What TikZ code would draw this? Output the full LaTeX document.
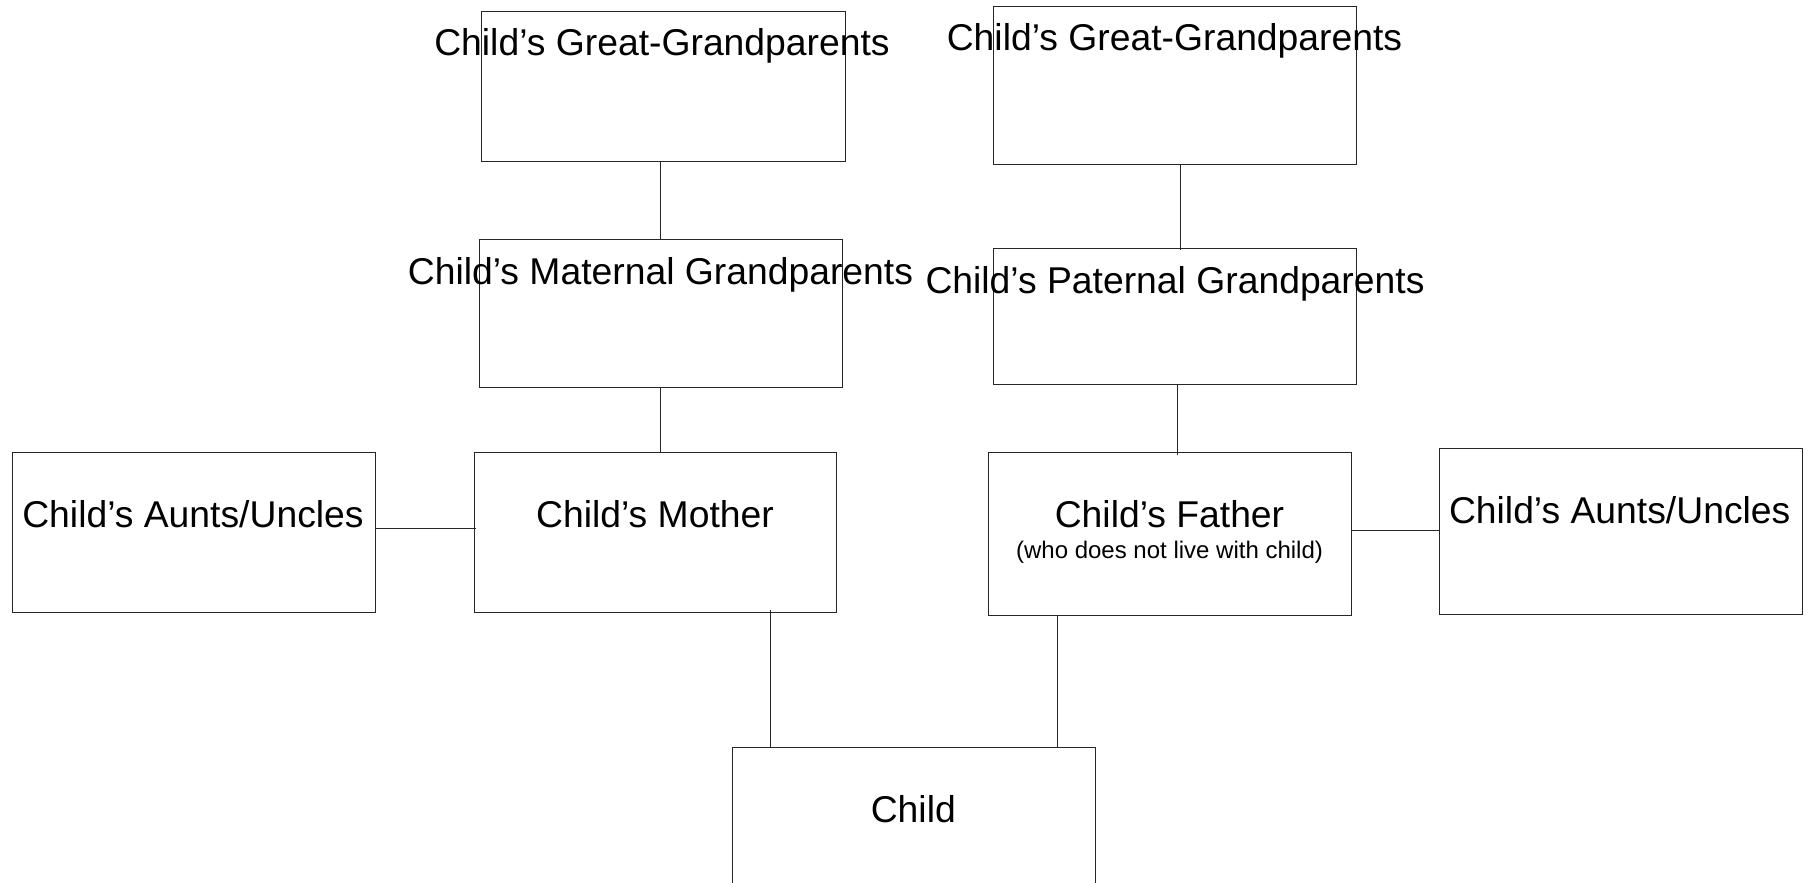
\documentclass[tikz,border=0pt]{standalone}
\usepackage{fontspec}
\setmainfont{Liberation Sans}
\begin{document}
\begin{tikzpicture}[x=1pt,y=-1pt,
  famBox/.style={draw=black!85,line width=0.85pt,fill=none,inner sep=0pt,outer sep=0pt,rectangle},
  bigTxt/.style={font=\fontsize{37.3}{44}\selectfont,inner sep=0pt,anchor=base,text=black},
  smallTxt/.style={font=\fontsize{24}{28}\selectfont,inner sep=0pt,anchor=base,text=black},
  link/.style={draw=black!85,line width=0.85pt}]
\useasboundingbox (0,0) rectangle (1809,883);
\clip (0,0) rectangle (1809,883);
\fill[white] (0,0) rectangle (1809,883);
% boxes
\node[famBox,minimum width=364pt,minimum height=150pt] (ggpL) at (663,86.5) {};
\node[famBox,minimum width=363pt,minimum height=158pt] (ggpR) at (1174.5,85) {};
\node[famBox,minimum width=363pt,minimum height=148pt] (matGP) at (660.5,313) {};
\node[famBox,minimum width=363pt,minimum height=136pt] (patGP) at (1174.5,316) {};
\node[famBox,minimum width=363pt,minimum height=160pt] (auntL) at (193.5,532) {};
\node[famBox,minimum width=362pt,minimum height=160pt] (mother) at (655,532) {};
\node[famBox,minimum width=363pt,minimum height=163pt] (father) at (1169.5,533.5) {};
\node[famBox,minimum width=363pt,minimum height=166pt] (auntR) at (1620.5,531) {};
\node[famBox,minimum width=363pt,minimum height=153pt] (child) at (913.5,823.5) {};
% texts
\node[bigTxt] (tGgpL) at (662,56) {Child’s Great-Grandparents};
\node[bigTxt] (tGgpR) at (1174.5,51) {Child’s Great-Grandparents};
\node[bigTxt] (tMatGP) at (660.5,284) {Child’s Maternal Grandparents};
\node[bigTxt] (tPatGP) at (1175,293) {Child’s Paternal Grandparents};
\node[bigTxt] (tAuntL) at (193,527) {Child’s Aunts/Uncles};
\node[bigTxt] (tMother) at (655,527) {Child’s Mother};
\node[bigTxt] (tFather) at (1169.5,527) {Child’s Father};
\node[smallTxt] (tFatherSub) at (1169.5,558) {(who does not live with child)};
\node[bigTxt] (tAuntR) at (1619.7,523) {Child’s Aunts/Uncles};
\node[bigTxt] (tChild) at (913.3,822) {Child};
% connector x / y positions
\coordinate (xA) at (660,0);
\coordinate (xB) at (1180,0);
\coordinate (xC) at (1177.5,0);
\coordinate (xD) at (770,0);
\coordinate (xE) at (1057.5,0);
\coordinate (yA) at (0,528);
\coordinate (yB) at (0,530);
% connectors
\draw[link] (ggpL.south -| xA) -- (matGP.north -| xA);
\draw[link] (ggpR.south -| xB) -- ([yshift=-2pt]patGP.north -| xB);
\draw[link] (matGP.south -| xA) -- (mother.north -| xA);
\draw[link] (patGP.south -| xC) -- ([yshift=-3pt]father.north -| xC);
\draw[link] (auntL.east |- yA) -- ([xshift=2pt]mother.west |- yA);
\draw[link] (father.east |- yB) -- (auntR.west |- yB);
\draw[link] ([yshift=2pt]mother.south -| xD) -- (child.north -| xD);
\draw[link] (father.south -| xE) -- (child.north -| xE);
\end{tikzpicture}
\end{document}
